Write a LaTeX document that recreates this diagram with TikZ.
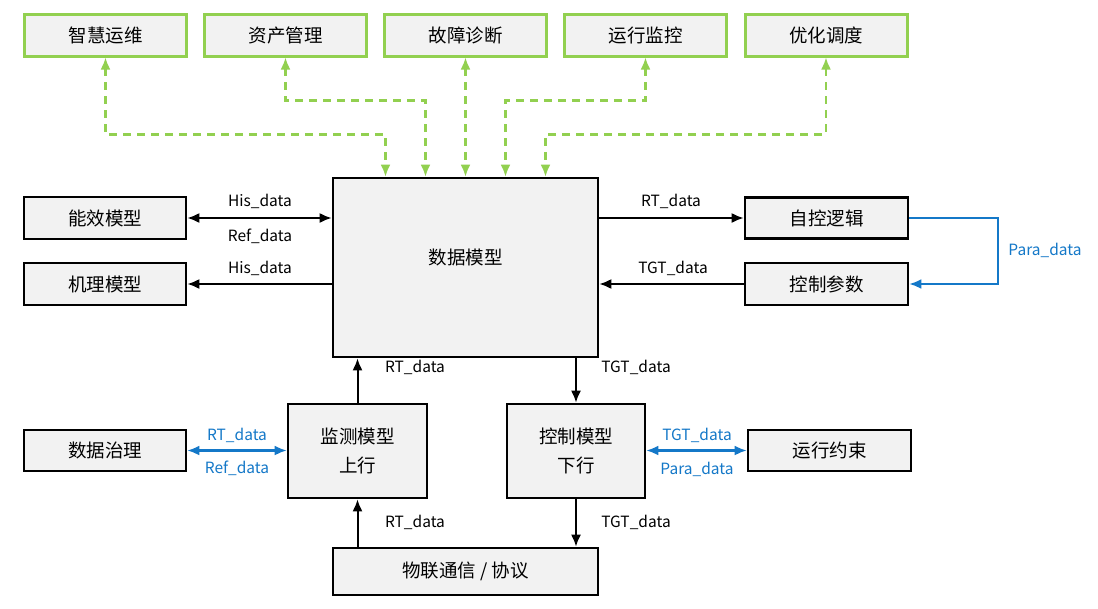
\documentclass[tikz,border=0pt]{standalone}
\usepackage{fontspec}
\setmainfont{Noto Sans CJK SC}
\usetikzlibrary{arrows.meta}
\definecolor{gfill}{RGB}{242,242,242}
\definecolor{ggreen}{RGB}{146,208,80}
\definecolor{bblue}{RGB}{20,120,200}
\begin{document}
\begin{tikzpicture}[x=1pt,y=-1pt,
  box/.style={draw=black, line width=2.6pt, fill=gfill, inner sep=0pt, align=center,
    font=\fontsize{18.5}{29}\selectfont},
  gbox/.style={box, draw=ggreen, line width=3pt, minimum width=162pt, minimum height=42pt},
  lbl/.style={font=\fontsize{15.5}{17}\selectfont, inner sep=1pt},
  blbl/.style={lbl, text=bblue},
  tipk/.tip={Latex[length=12pt,width=10pt]},
  conn/.style={line width=2pt, -tipk},
  dconn/.style={line width=2pt, tipk-tipk},
  bconn/.style={conn, line width=2.2pt, draw=bblue, tipk-tipk},
  gconn/.style={line width=2.3pt, draw=ggreen, dash pattern=on 8pt off 6pt, tipk-tipk}
]
\fill[white] (0,0) rectangle (1098,608);
\useasboundingbox (0,0) rectangle (1098,608);

% top boxes
\node[gbox] (zh) at (105.5,35) {智慧运维};
\node[gbox] (zc) at (285.5,35) {资产管理};
\node[gbox] (gz) at (465.5,35) {故障诊断};
\node[gbox] (yx) at (645.5,35) {运行监控};
\node[gbox] (yh) at (826,35) {优化调度};

% middle
\node[box, minimum width=265pt, minimum height=179pt, text depth=22pt] (dm) at (465.5,267.5) {数据模型};
\node[box, minimum width=162pt, minimum height=42pt] (nx) at (105,218) {能效模型};
\node[box, minimum width=162pt, minimum height=42pt] (jl) at (105,284) {机理模型};
\node[box, minimum width=163pt, minimum height=41pt] (zk) at (826.5,218) {自控逻辑};
\node[box, minimum width=163pt, minimum height=42pt] (kc) at (826.5,284) {控制参数};

% lower
\node[box, minimum width=162pt, minimum height=41pt] (sj) at (105,450.5) {数据治理};
\node[box, minimum width=139pt, minimum height=94pt] (jc) at (357.5,451) {监测模型\\上行};
\node[box, minimum width=138pt, minimum height=94pt] (kz) at (576,451) {控制模型\\下行};
\node[box, minimum width=163pt, minimum height=41pt] (yy) at (829.5,450.5) {运行约束};
\node[box, minimum width=265pt, minimum height=47pt] (wl) at (465.5,571.5) {物联通信 / 协议};

% top dashed connectors
\draw[gconn] (zh.south) -- ++(0,77) -| ([xshift=-80pt]dm.north);
\draw[gconn] (zc.south) -- ++(0,43) -| ([xshift=-40pt]dm.north);
\draw[gconn] (gz.south) -- (gz.south |- dm.north);
\draw[gconn] (yx.south) -- ++(0,43) -| ([xshift=40pt]dm.north);
\draw[gconn] (yh.south) -- ++(0,77) -| ([xshift=80pt]dm.north);

% left connectors
\draw[dconn] (nx.east) -- (nx.east -| dm.west);
\node[lbl] (l1) at (260,201) {His\_data};
\node[lbl] (l2) at (260,236) {Ref\_data};
\draw[conn] (dm.west |- jl.east) -- (jl.east);
\node[lbl] (l3) at (260,268) {His\_data};

% right connectors
\draw[conn] (dm.east |- zk.west) -- (zk.west);
\node[lbl] (l4) at (671,201) {RT\_data};
\draw[conn] (kc.west) -- (kc.west -| dm.east);
\node[lbl] (l5) at (673,268) {TGT\_data};
\draw[line width=2.2pt, draw=bblue, -tipk] (zk.east) -- ++(89,0) |- (kc.east);
\node[blbl] (l6) at (1045,250) {Para\_data};

% vertical connectors
\draw[conn] (jc.north) -- (jc.north |- dm.south);
\node[lbl] (l7) at (415,367) {RT\_data};
\draw[conn] (kz.north |- dm.south) -- (kz.north);
\node[lbl] (l8) at (636,367) {TGT\_data};
\draw[conn] (jc.south |- wl.north) -- (jc.south);
\node[lbl] (l9) at (415,522) {RT\_data};
\draw[conn] (kz.south) -- (kz.south |- wl.north);
\node[lbl] (l10) at (636,522) {TGT\_data};

% blue side connectors
\draw[bconn] (sj.east) -- (sj.east -| jc.west);
\node[blbl] (l11) at (237,435) {RT\_data};
\node[blbl] (l12) at (237,468) {Ref\_data};
\draw[bconn] (kz.east |- yy.west) -- (yy.west);
\node[blbl] (l13) at (697,435) {TGT\_data};
\node[blbl] (l14) at (697,469) {Para\_data};
\end{tikzpicture}
\end{document}
